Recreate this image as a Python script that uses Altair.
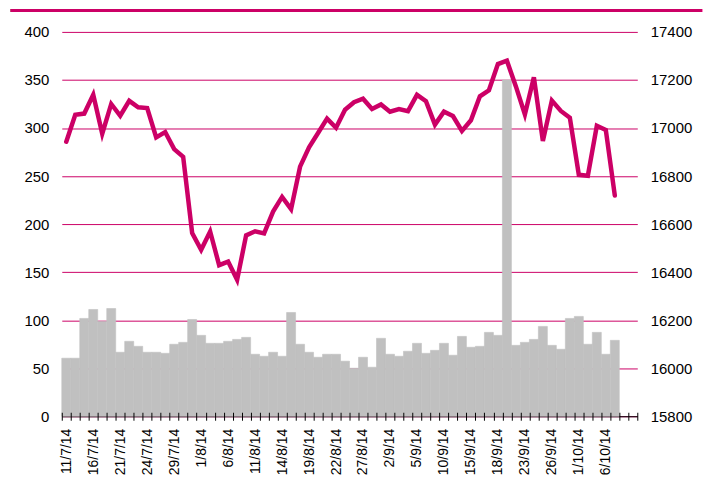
import altair as alt
import pandas as pd

dates = [
    "11/7/14", "14/7/14", "15/7/14", "16/7/14", "17/7/14", "18/7/14", "21/7/14", "22/7/14",
    "23/7/14", "24/7/14", "25/7/14", "28/7/14", "29/7/14", "30/7/14", "31/7/14",
    "1/8/14", "4/8/14", "5/8/14", "6/8/14", "7/8/14", "8/8/14", "11/8/14", "12/8/14",
    "13/8/14", "14/8/14", "15/8/14", "18/8/14", "19/8/14", "20/8/14", "21/8/14", "22/8/14",
    "25/8/14", "26/8/14", "27/8/14", "28/8/14", "29/8/14",
    "2/9/14", "3/9/14", "4/9/14", "5/9/14", "8/9/14", "9/9/14", "10/9/14", "11/9/14",
    "12/9/14", "15/9/14", "16/9/14", "17/9/14", "18/9/14", "19/9/14", "22/9/14", "23/9/14",
    "24/9/14", "25/9/14", "26/9/14", "29/9/14", "30/9/14",
    "1/10/14", "2/10/14", "3/10/14", "6/10/14", "7/10/14",
]

volume = [
    60.4, 60.4, 101.8, 111.1, 98.7, 112.1, 66.6, 78.0, 72.8, 66.6,
    66.6, 65.5, 74.9, 76.9, 100.7, 84.2, 75.9, 75.9, 78.0, 80.0,
    82.1, 64.5, 62.4, 66.6, 62.4, 108.0, 74.9, 66.6, 61.4, 64.5,
    64.5, 57.3, 50.0, 61.4, 51.0, 81.1, 64.5, 62.4, 67.6, 75.9,
    65.5, 68.6, 75.9, 63.5, 83.1, 71.8, 72.8, 87.3, 84.2, 350.0,
    73.8, 76.9, 80.0, 93.5, 73.8, 69.7, 101.8, 103.9, 74.9, 87.3,
    64.5, 79.0,
]

index_level = [
    16943, 17055, 17060, 17138, 16976, 17100, 17051, 17113, 17086, 17083,
    16961, 16983, 16912, 16880, 16563, 16493, 16569, 16429, 16444, 16368,
    16553, 16570, 16561, 16652, 16713, 16662, 16839, 16920, 16979, 17039,
    17001, 17076, 17107, 17122, 17079, 17098, 17068, 17079, 17070, 17138,
    17112, 17014, 17068, 17050, 16988, 17032, 17132, 17157, 17266, 17280,
    17173, 17056, 17211, 16946, 17114, 17071, 17043, 16805, 16801, 17009,
    16992, 16719,
]

n_slots = 64  # category slots on the x axis (last two empty)
label_step = 3

df = pd.DataFrame({
    "idx": list(range(len(dates))),
    "date": dates,
    "vol": volume,
    "level": index_level,
})
df["x0"] = df["idx"] - 0.5
df["x1"] = df["idx"] + 0.5

label_values = list(range(0, len(dates), label_step))
label_array = "[" + ",".join("'" + d + "'" for d in dates) + "]"
tick_values = [i - 0.5 for i in range(n_slots + 1)]

MAGENTA = "#cc0066"
GREY = "#c0c0c0"
FONT = "Liberation Sans"

xscale = alt.Scale(domain=[-0.5, n_slots - 0.5], nice=False, zero=False)

bars = alt.Chart(df).mark_rect(color=GREY, stroke=GREY, strokeWidth=0.6).encode(
    x=alt.X("x0:Q", scale=xscale, title=None,
            axis=alt.Axis(orient="bottom", values=label_values, ticks=False, grid=False,
                          domain=True, domainColor="#000000", domainWidth=1.2,
                          labelExpr=label_array + "[datum.value]",
                          labelAngle=270, labelPadding=12, labelFontSize=14,
                          labelFont=FONT, labelColor="#000000",
                          labelOverlap=False, labelFlush=False)),
    x2="x1:Q",
    y=alt.Y("vol:Q", scale=alt.Scale(domain=[0, 400], nice=False), title=None,
            axis=alt.Axis(values=list(range(0, 401, 50)), grid=True, gridColor=MAGENTA,
                          gridWidth=1, domain=False, ticks=False, labelPadding=13,
                          labelFontSize=15, labelFont=FONT, labelColor="#000000")),
)

line = alt.Chart(df).mark_line(color=MAGENTA, strokeWidth=4.5, strokeCap="round").encode(
    x=alt.X("idx:Q", scale=xscale, title=None,
            axis=alt.Axis(orient="bottom", values=tick_values, labels=False, grid=False,
                          domain=False, ticks=True, tickSize=8, offset=-4,
                          tickColor="#000000", tickWidth=1, zindex=1)),
    y=alt.Y("level:Q", scale=alt.Scale(domain=[15800, 17400], nice=False, zero=False),
            title=None,
            axis=alt.Axis(orient="right", values=list(range(15800, 17401, 200)), grid=False,
                          format="d", domain=False, ticks=False, labelPadding=13,
                          labelFontSize=15, labelFont=FONT, labelColor="#000000")),
)

border = alt.Chart(df).mark_rule(color=MAGENTA, strokeWidth=3).encode(
    x=alt.value(-51), x2=alt.value(643), y=alt.value(-21.5)
)

chart = (
    alt.layer(bars, line, border)
    .resolve_scale(y="independent")
    .resolve_axis(x="independent", y="independent")
    .properties(width=578, height=386,
                padding={"left": 1, "top": 0, "right": 0, "bottom": 0},
                view=alt.ViewBackground(stroke="transparent", strokeWidth=0))
    .configure_view(stroke="transparent", strokeWidth=0)
    .configure_axisY(domain=False)
    .configure_axisX(grid=False)
    .configure(background="#ffffff")
)

chart.save("out.html", embed_options={"renderer": "svg", "actions": False})
